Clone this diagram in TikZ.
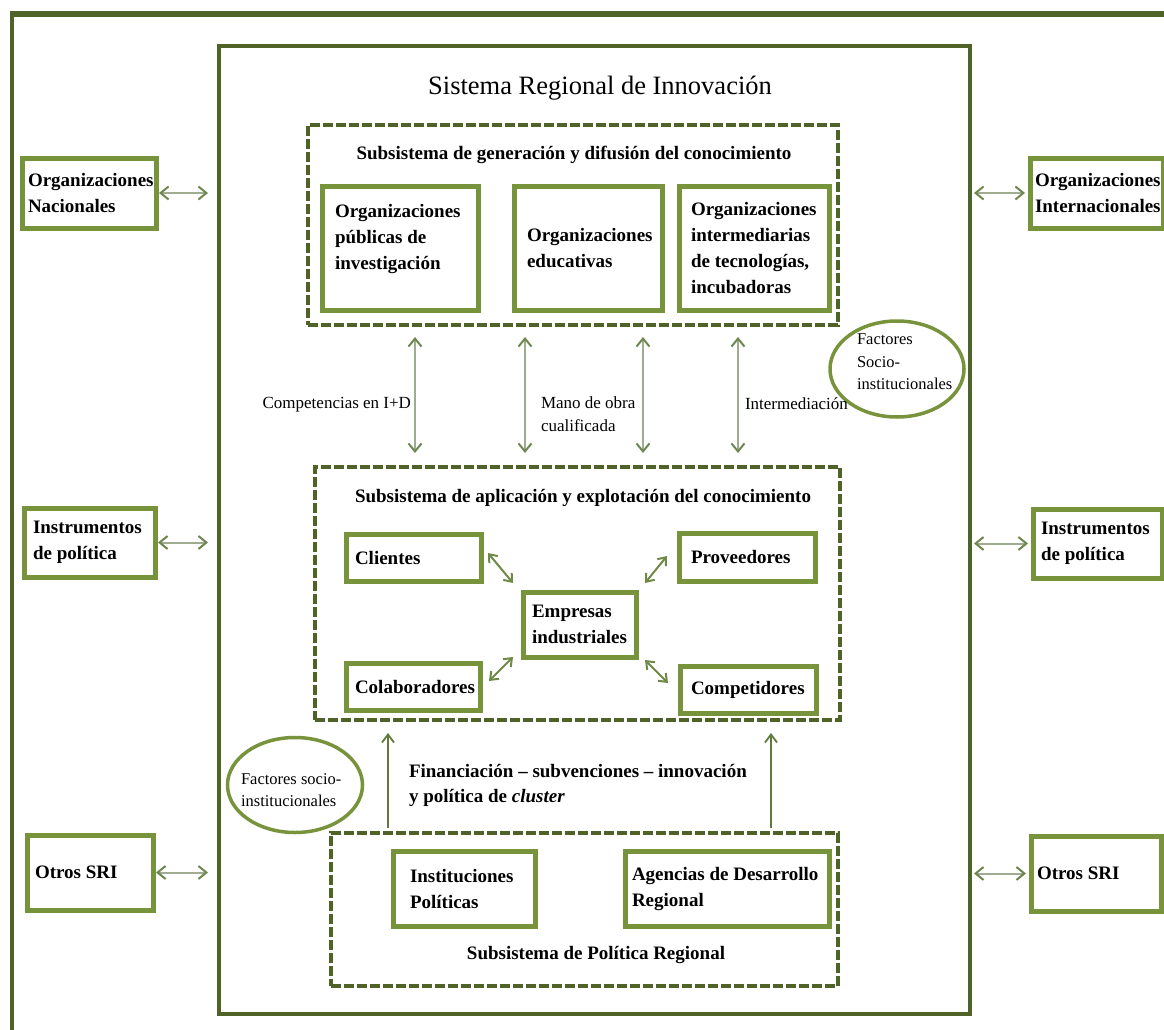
\documentclass[tikz,border=0pt]{standalone}
\usepackage{fontspec}
\setmainfont{Liberation Serif}
\usetikzlibrary{arrows.meta,shapes.geometric,calc}

\definecolor{framegreen}{RGB}{79,98,40}
\definecolor{boxgreen}{RGB}{119,147,60}
\definecolor{linkgray}{RGB}{160,172,145}
\definecolor{tipgreen}{RGB}{110,135,80}
\definecolor{flowgreen}{RGB}{95,122,58}
\definecolor{diaggreen}{RGB}{110,138,70}

\begin{document}
\begin{tikzpicture}[x=1pt,y=-1pt,
  every node/.style={outer sep=0pt},
  gbox/.style={draw=boxgreen, line width=5pt, anchor=north west, inner ysep=0pt,
               align=flush left, font=\bfseries\fontsize{19}{26}\selectfont},
  dbox/.style={draw=framegreen, line width=4.5pt, dash pattern=on 10pt off 3pt,
               anchor=north west, inner sep=0pt},
  frame/.style={draw=framegreen, line width=4.5pt, anchor=north west, inner sep=0pt},
  head/.style={font=\bfseries\fontsize{19}{26}\selectfont, inner sep=0pt},
  lbl/.style={font=\fontsize{17}{23}\selectfont, inner sep=0pt, align=flush left},
  fac/.style={font=\fontsize{16.5}{22.5}\selectfont, inner sep=0pt, align=flush left},
  oval/.style={draw=boxgreen, line width=3.5pt, ellipse, inner sep=0pt},
  biarrow/.style={draw=linkgray, line width=2pt,
                  >={Straight Barb[length=8pt,width=13pt,color=tipgreen]}, <->},
  diarrow/.style={draw=diaggreen, line width=2pt,
                  >={Straight Barb[length=7pt,width=11pt]}, <->},
  uparrow/.style={draw=flowgreen, line width=1.8pt,
                  -{Straight Barb[length=8pt,width=12pt]}}
]
\useasboundingbox (0,0) rectangle (1164,1030);

% outer frame (runs off the page on the right and bottom)
\draw[framegreen, line width=4pt] (12,1040) -- (12,12);
\draw[framegreen, line width=5.5pt] (10,14) -- (1175,14);

% regional innovation system frame
\node[frame, minimum width=751pt, minimum height=968pt] (sri) at (219,46) {};
\node[font=\fontsize{26.5}{30}\selectfont, inner sep=0pt] (title) at (600,88)
  {Sistema Regional de Innovación};

% subsystem frames
\node[dbox, minimum width=530pt, minimum height=200pt] (gen) at (308,125) {};
\node[dbox, minimum width=525pt, minimum height=253pt] (app) at (315,467) {};
\node[dbox, minimum width=507pt, minimum height=153pt] (pol) at (331,833) {};

\node[head] (genh) at (574,155) {Subsistema de generación y difusión del conocimiento};
\node[head] (apph) at (583,498) {Subsistema de aplicación y explotación del conocimiento};
\node[head] (polh) at (596,955) {Subsistema de Política Regional};

% knowledge generation
\node[gbox, inner xsep=13pt, text width=130pt, minimum height=124pt] (opi) at (322,186)
  {Organizaciones\\públicas de\\investigación\\[-12pt]\strut};
\node[gbox, inner xsep=13pt, text width=122pt, minimum height=124pt] (oed) at (514,186)
  {Organizaciones\\educativas};
\node[gbox, inner xsep=12pt, text width=126pt, minimum height=124pt] (oit) at (679,186)
  {Organizaciones\\intermediarias\\de tecnologías,\\incubadoras};

% knowledge application
\node[gbox, inner xsep=9pt, text width=117pt, minimum height=47pt] (cli) at (346,534) {Clientes};
\node[gbox, inner xsep=12pt, text width=112pt, minimum height=48pt] (pro) at (679,533) {Proveedores};
\node[gbox, inner xsep=9pt, text width=95pt, minimum height=65pt] (emp) at (523,592)
  {Empresas\\industriales};
\node[gbox, inner xsep=9pt, text width=116pt, minimum height=47pt] (col) at (346,663) {Colaboradores};
\node[gbox, inner xsep=11pt, text width=114pt, minimum height=47pt] (com) at (680,666) {Competidores};

% regional policy
\node[gbox, inner xsep=17pt, text width=108pt, minimum height=75pt] (ipo) at (393,851)
  {Instituciones\\Políticas};
\node[gbox, inner xsep=7pt, text width=190pt, minimum height=75pt] (adr) at (625,851)
  {Agencias de Desarrollo\\Regional};

% external actors
\node[gbox, inner xsep=6pt, text width=122pt, minimum height=70pt] (onat) at (22,158)
  {Organizaciones\\Nacionales};
\node[gbox, inner xsep=9pt, text width=113pt, minimum height=69pt] (inl) at (24,508)
  {Instrumentos\\de política};
\node[gbox, inner xsep=8pt, text width=110pt, minimum height=75pt] (osl) at (27,835) {Otros SRI};
\node[gbox, inner xsep=5pt, text width=123pt, minimum height=70pt] (oint) at (1030,158)
  {Organizaciones\\Internacionales};
\node[gbox, inner xsep=8pt, text width=113pt, minimum height=69pt] (inr) at (1033,509)
  {Instrumentos\\de política};
\node[gbox, inner xsep=6pt, text width=118pt, minimum height=75pt] (osr) at (1031,836) {Otros SRI};

% socio-institutional factors
\node[oval, minimum width=134pt, minimum height=96pt] (fs1) at (897,369) {};
\node[fac, anchor=west] (fs1t) at (857,362) {Factores\\Socio-\\institucionales};
\node[oval, minimum width=135pt, minimum height=95pt] (fs2) at (295,785) {};
\node[fac, anchor=west] (fs2t) at (241,790) {Factores socio-\\institucionales};

% flow labels
\node[lbl, anchor=east] (lrd) at (411,405) {Competencias en I+D};
\node[lbl, anchor=west] (lmo) at (541,414) {Mano de obra\\cualificada};
\node[lbl, anchor=west] (lint) at (745,404) {Intermediación};
\node[head, anchor=west, align=flush left, font=\bfseries\fontsize{19}{25}\selectfont] (lfin) at (409,785)
  {Financiación – subvenciones – innovación\\y política de \textit{cluster}};

% exchanges between generation and application subsystems
\foreach \dx in {107,217,335,430}
  \draw[biarrow, shorten <=12pt, shorten >=14pt]
    ($(gen.south west)+(\dx,0)$) -- ($(app.north west)+(\dx-7,0)$);

% links with external actors
\draw[biarrow, shorten <=3pt, shorten >=11pt] (onat.east) -- (onat.east -| sri.west);
\draw[biarrow, shorten <=3pt, shorten >=11pt] (inl.east) -- (inl.east -| sri.west);
\draw[biarrow, shorten <=3pt, shorten >=11pt] (osl.east) -- (osl.east -| sri.west);
\draw[biarrow, shorten <=4pt, shorten >=5pt] (oint.west -| sri.east) -- (oint.west);
\draw[biarrow, shorten <=4pt, shorten >=5pt] (inr.west -| sri.east) -- (inr.west);
\draw[biarrow, shorten <=4pt, shorten >=5pt] (osr.west -| sri.east) -- (osr.west);

% links around the industrial firms
\draw[diarrow] ($(cli.east)+(7,-4.5)$) -- ($(emp.north west)+(-10,-9)$);
\draw[diarrow] ($(pro.west)+(-12,-1)$) -- ($(emp.north east)+(9,-9)$);
\draw[diarrow] ($(col.east)+(9,-5.5)$) -- ($(emp.south west)+(-10,0)$);
\draw[diarrow] ($(emp.south east)+(9,3)$) -- ($(com.west)+(-12,-6.5)$);

% policy support towards the application subsystem
\draw[uparrow, shorten <=5pt, shorten >=13pt] ($(pol.north west)+(57,0)$) -- ($(app.south west)+(73,0)$);
\draw[uparrow, shorten <=5pt, shorten >=13pt] ($(pol.north west)+(440,0)$) -- ($(app.south west)+(456,0)$);
\end{tikzpicture}
\end{document}
